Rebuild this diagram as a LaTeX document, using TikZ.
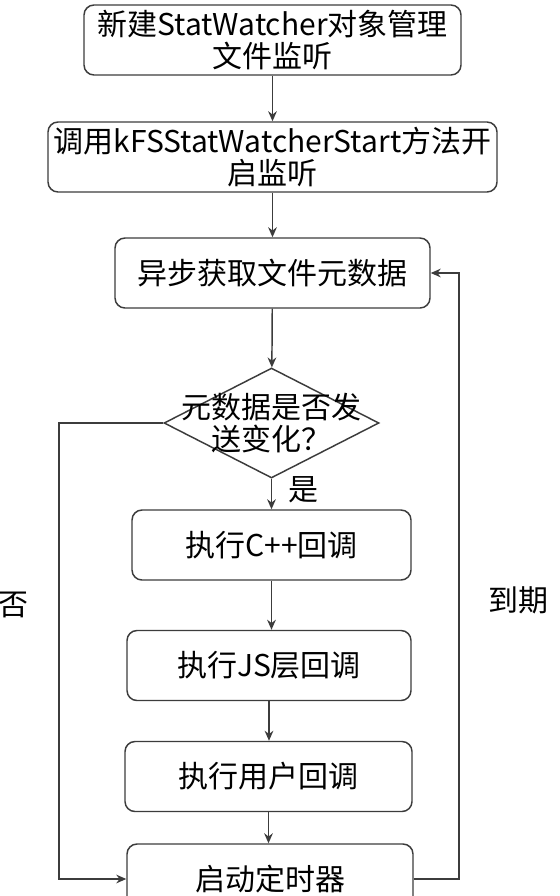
\documentclass[tikz,border=0pt]{standalone}
\usepackage{fontspec}
\setmainfont{Noto Sans CJK SC}
\usetikzlibrary{shapes.geometric,arrows.meta,positioning}
\definecolor{myline}{RGB}{60,60,60}

\begin{document}
\begin{tikzpicture}[x=0.75pt,y=-0.75pt,line width=1.1pt,
  stepbox/.style={draw=myline,rounded corners=7.5pt,align=center,
    minimum height=52.5pt,inner sep=0pt},
  decide/.style={draw=myline,diamond,minimum width=161.25pt,
    minimum height=82.5pt,inner sep=0pt},
  flow/.style={draw=myline,-{Stealth[length=7.5pt,width=6.5pt]}},
  every node/.style={font=\fontsize{22.5}{24.5}\selectfont}]

  \clip (0,0) rectangle (560,896);
  \fill[white] (0,0) rectangle (560,896);

  \node[stepbox,minimum width=282.75pt] (newwatch) at (272.5,40) {新建StatWatcher对象管理\\文件监听};
  \node[stepbox,minimum width=336.75pt] (start) at (272.5,157) {调用kFSStatWatcherStart方法开\\启监听};
  \node[stepbox,minimum width=236.25pt] (fetch) at (272.5,273) {异步获取文件元数据};

  \node[decide,label={[align=center]center:元数据是否发\\送变化\makebox[1em]{？}}] (changed) at (271.5,423) {};

  \node[stepbox,minimum width=209.25pt] (cppcb) at (271.5,545) {执行C++回调};
  \node[stepbox,minimum width=213pt] (jscb) at (269,665.5) {执行JS层回调};
  \node[stepbox,minimum width=215.25pt] (usercb) at (268.5,776.5) {执行用户回调};
  \node[stepbox,minimum width=214.5pt] (timer) at (270,879) {启动定时器};

  % main chain
  \draw[flow] (newwatch.south -| start.north) -- (start.north);
  \draw[flow] (start) -- (fetch);
  \draw[flow] (fetch) -- (changed);
  \draw[flow] (changed) -- node[right=9pt,pos=0.35] (yes) {是} (changed.south |- cppcb.north);
  \draw[flow] (cppcb.south) -- (cppcb.south |- jscb.north);
  \draw[flow] (jscb.south) -- (jscb.south |- usercb.north);
  \draw[flow] (usercb.south) -- (usercb.south |- timer.north);

  % loops
  \coordinate (nocorner) at (59,423);
  \coordinate (duecorner) at (459,273);
  \draw[flow] (changed.west) -- (nocorner) |- (timer.west);
  \draw[flow] (timer.east) -| (duecorner) -- (fetch.east);

  \node (no) at (13,605) {否};
  \node (due) at (518,600) {到期};
\end{tikzpicture}
\end{document}
